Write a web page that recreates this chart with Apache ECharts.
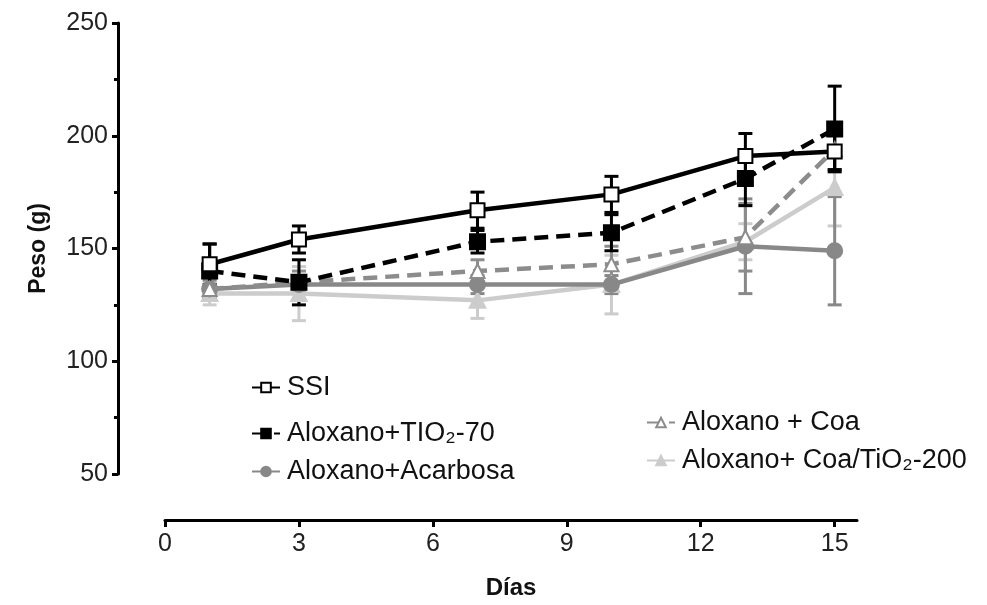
<!DOCTYPE html>
<html>
<head>
<meta charset="utf-8">
<script src="https://cdn.jsdelivr.net/npm/echarts@6/dist/echarts.min.js"></script>
<style>
  html, body { margin: 0; padding: 0; background: #fff; }
  #chart { width: 987px; height: 605px; }
</style>
</head>
<body>
<div id="chart"></div>
<script>
// días de medición
var days = [1, 3, 7, 10, 13, 15];
var xTicks = [0, 3, 6, 9, 12, 15];

// peso medio (g) y error por grupo
var ssi = [143, 154, 167, 174, 191, 193];
var ssiErr = [9, 6, 8, 8, 10, 8];
var tio70 = [140, 135, 153, 157, 181, 203];
var tio70Err = [12, 10, 5, 8, 12, 19];
var acarbosa = [132, 134, 134, 134, 151, 149];
var acarbosaErr = [4, 3, 4, 4, 21, 24];
var coa = [132, 135, 140, 143, 155, 194];
var coaErr = [5, 5, 5, 8, 15, 9];
var coa200 = [130, 130, 127, 134, 153, 177];
var coa200Err = [5, 12, 8, 13, 8, 17];

var names = ['SSI', 'Aloxano+TIO\u2082-70', 'Aloxano+Acarbosa', 'Aloxano + Coa', 'Aloxano+ Coa/TiO\u2082-200'];

var FONT = "'Liberation Sans', Arial, sans-serif";
var chart = echarts.init(document.getElementById('chart'));

function pts(vals) {
    return days.map(function (d, i) { return [d, vals[i]]; });
}
function errPts(vals, errs) {
    return days.map(function (d, i) { return [d, vals[i], errs[i]]; });
}
// barras de error (con tapas)
function errSeries(vals, errs, color, z) {
    return {
        type: 'custom',
        z: z,
        silent: true,
        data: errPts(vals, errs),
        renderItem: function (params, api) {
            var x = api.value(0);
            var hi = api.coord([x, api.value(1) + api.value(2)]);
            var lo = api.coord([x, api.value(1) - api.value(2)]);
            var w = 7;
            var st = { stroke: color, lineWidth: 3 };
            return {
                type: 'group',
                children: [
                    { type: 'line', shape: { x1: hi[0], y1: hi[1], x2: lo[0], y2: lo[1] }, style: st },
                    { type: 'line', shape: { x1: hi[0] - w, y1: hi[1], x2: hi[0] + w, y2: hi[1] }, style: st },
                    { type: 'line', shape: { x1: lo[0] - w, y1: lo[1], x2: lo[0] + w, y2: lo[1] }, style: st }
                ]
            };
        }
    };
}
function lineSeries(name, vals, color, dashed, symbol, z) {
    return {
        name: name,
        type: 'line',
        z: z,
        data: pts(vals),
        symbol: symbol,
        symbolSize: 14,
        itemStyle: { color: color, borderColor: color, borderWidth: 3 },
        lineStyle: { color: color, width: 4.5, type: dashed ? [14, 8] : 'solid' }
    };
}
function legendAt(name, left, top) {
    return {
        data: [name],
        left: left,
        top: top,
        itemWidth: 28,
        itemHeight: 12,
        itemGap: 0,
        selectedMode: false,
        textStyle: { fontFamily: FONT, fontSize: 27, color: '#111', padding: [0, 0, 0, 2] }
    };
}

var option = {
    animation: false,
    backgroundColor: '#fff',
    grid: { left: 165, right: 130, top: 23, bottom: 125 },
    legend: [
        legendAt(names[0], 246, 369),
        legendAt(names[1], 246, 415),
        legendAt(names[2], 246, 453),
        legendAt(names[3], 641, 404),
        legendAt(names[4], 641, 442)
    ],
    xAxis: {
        type: 'value',
        min: 0,
        max: 15.5,
        offset: 46,
        name: 'Días',
        nameLocation: 'middle',
        nameGap: 56,
        nameTextStyle: { fontFamily: FONT, fontSize: 24, fontWeight: 'bold', color: '#111' },
        splitLine: { show: false },
        axisLine: { onZero: false, lineStyle: { color: '#000', width: 3 } },
        axisTick: { customValues: xTicks, length: 7, lineStyle: { width: 3, color: '#000' } },
        axisLabel: { customValues: xTicks, margin: 12, fontFamily: FONT, fontSize: 25, color: '#222' }
    },
    yAxis: {
        type: 'value',
        min: 50,
        max: 250,
        interval: 50,
        offset: 47,
        name: 'Peso (g)',
        nameLocation: 'middle',
        nameGap: 68,
        nameTextStyle: { fontFamily: FONT, fontSize: 23, fontWeight: 'bold', color: '#111' },
        splitLine: { show: false },
        axisLine: { show: true, onZero: false, lineStyle: { color: '#000', width: 3 } },
        axisTick: { show: true, length: 6, lineStyle: { width: 3, color: '#000' } },
        minorTick: { show: true, splitNumber: 2, length: 4, lineStyle: { width: 3, color: '#000' } },
        axisLabel: { margin: 10, fontFamily: FONT, fontSize: 25, color: '#222' }
    },
    series: [
        errSeries(coa200, coa200Err, '#cccccc', 1),
        errSeries(acarbosa, acarbosaErr, '#888888', 2),
        errSeries(coa, coaErr, '#8c8c8c', 3),
        errSeries(tio70, tio70Err, '#000000', 4),
        errSeries(ssi, ssiErr, '#000000', 5),
        lineSeries(names[4], coa200, '#cccccc', false, 'triangle', 6),
        lineSeries(names[2], acarbosa, '#888888', false, 'circle', 7),
        lineSeries(names[3], coa, '#8c8c8c', true, 'emptyTriangle', 8),
        lineSeries(names[1], tio70, '#000000', true, 'rect', 9),
        lineSeries(names[0], ssi, '#000000', false, 'emptyRect', 10)
    ]
};
chart.setOption(option);
</script>
</body>
</html>
